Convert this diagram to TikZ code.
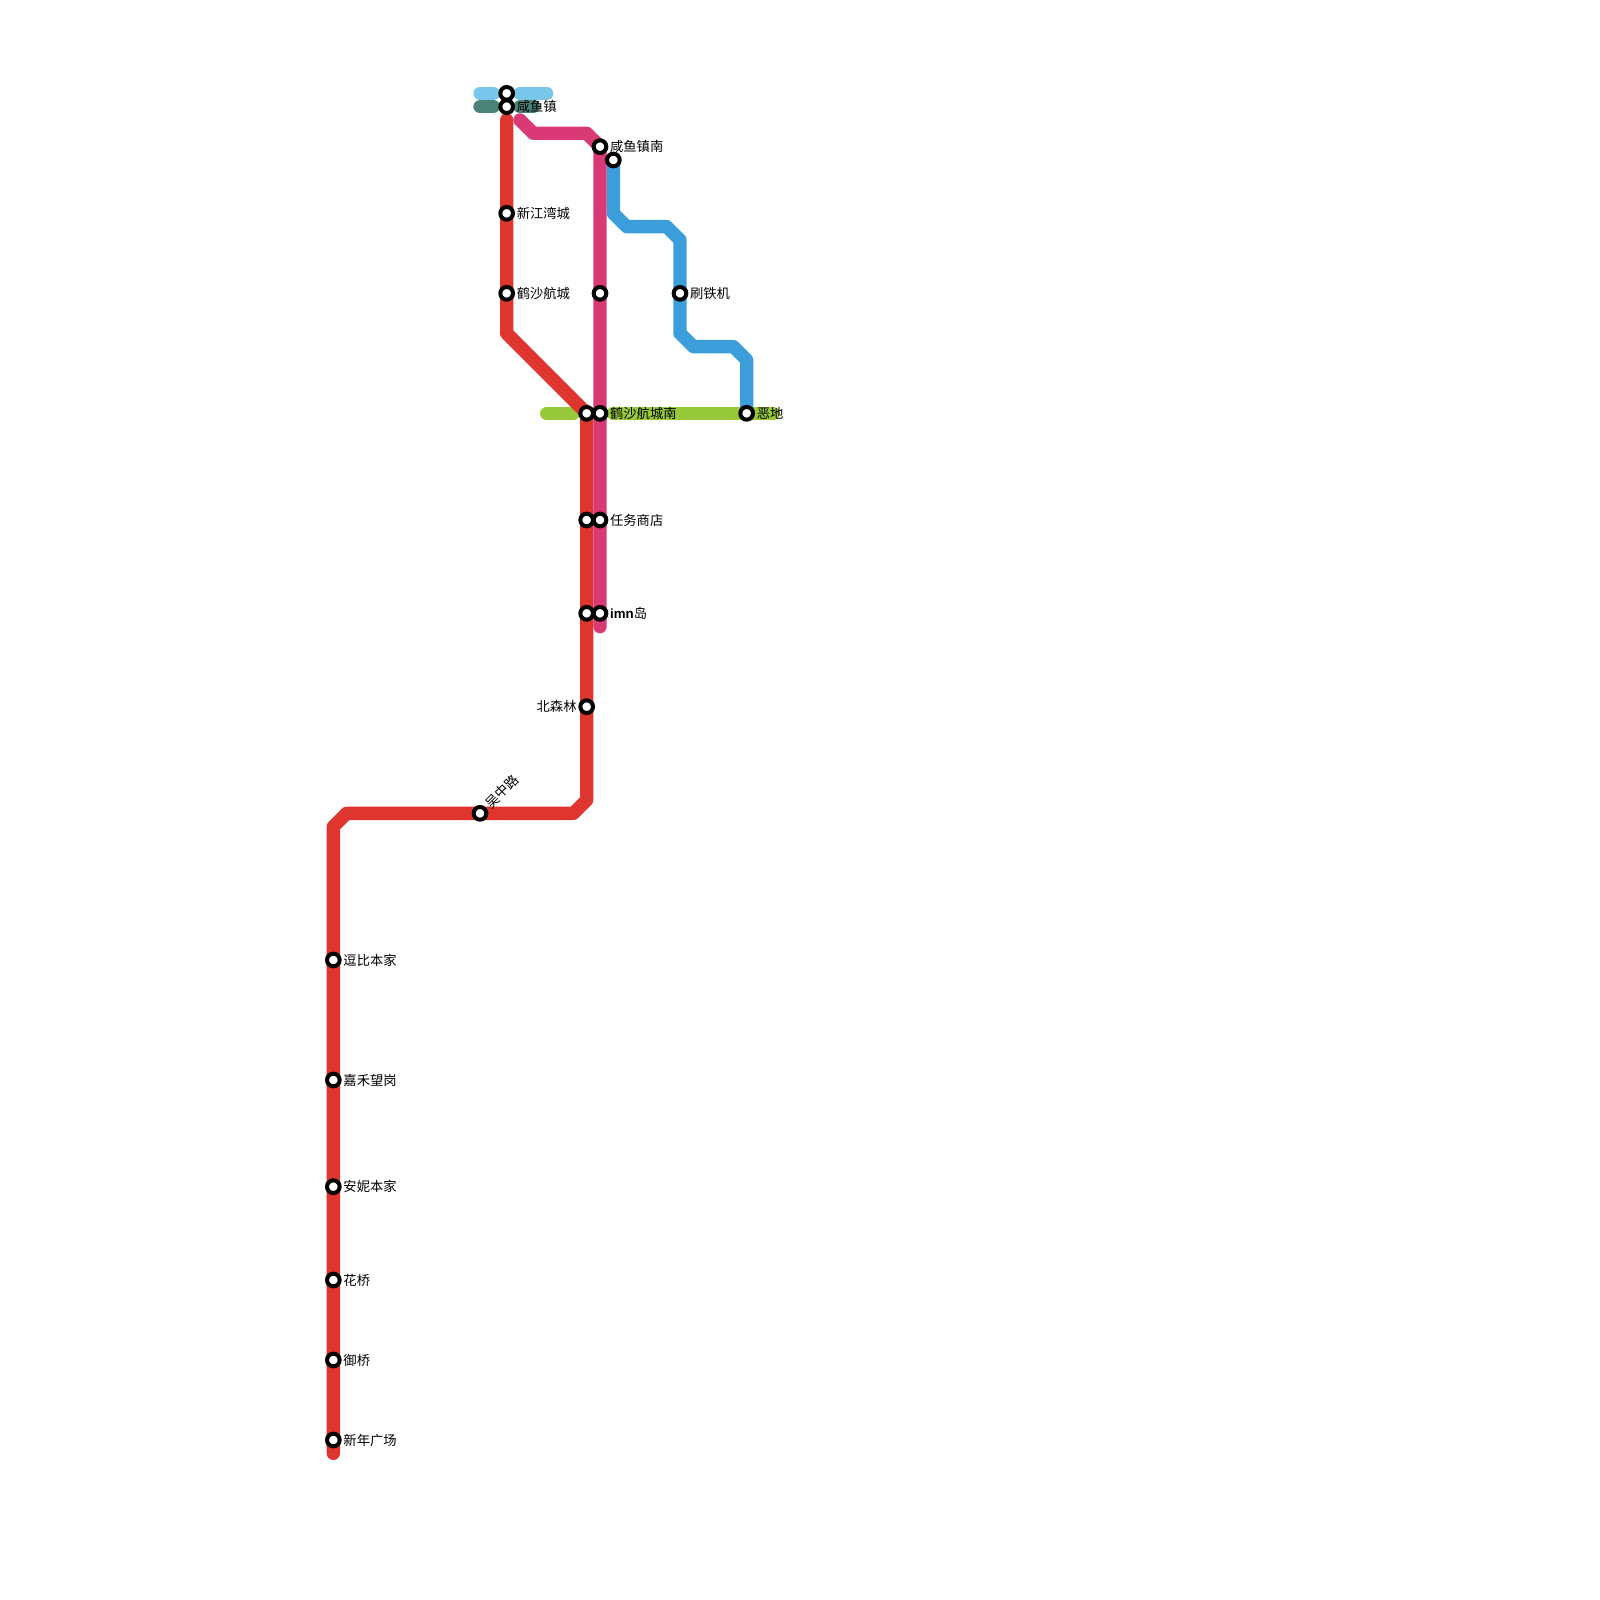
\documentclass[tikz,border=0pt]{standalone}
\usepackage{fontspec}
\setmainfont{Noto Sans CJK SC}
\newfontfamily\latinbold{Liberation Sans}
\usepackage{xcolor}
\usetikzlibrary{backgrounds, positioning}
\definecolor{redline}{HTML}{DE352F}
\definecolor{pinkline}{HTML}{D93A76}
\definecolor{blueline}{HTML}{3B9EDB}
\definecolor{skyline}{HTML}{78C6EA}
\definecolor{tealline}{HTML}{4A8478}
\definecolor{greenline}{HTML}{98C93A}

\begin{document}
\begin{tikzpicture}[
    x=0.2cm, y=-0.2cm,
    node distance=0.02cm,
    station/.style={circle, draw=black, fill=white, line width=0.06cm, minimum size=0.19cm, inner sep=0pt},
    lbl/.style={inner sep=0pt, font=\fontsize{5.67}{6}\selectfont},
    metro/.style={line width=0.2cm, line cap=round, line join=round}
]
\useasboundingbox (0,0) rectangle (120,120);
\node[station] (xianyu1) at (38,7) {};
\node[station] (xianyu2) at (38,8) {};
\node[station] (xinjiang) at (38,16) {};
\node[station] (heshaw) at (38,22) {};
\node[station] (red31) at (44,31) {};
\node[station] (red39) at (44,39) {};
\node[station] (red46) at (44,46) {};
\node[station] (beisenlin) at (44,53) {};
\node[station] (wuzhong) at (36,61) {};
\node[station] (doubi) at (25,72) {};
\node[station] (jiahe) at (25,81) {};
\node[station] (anni) at (25,89) {};
\node[station] (huaqiao) at (25,96) {};
\node[station] (yuqiao) at (25,102) {};
\node[station] (xinnian) at (25,108) {};
\node[station] (xianyunan) at (45,11) {};
\node[station] (pink22) at (45,22) {};
\node[station] (heshanan) at (45,31) {};
\node[station] (renwu) at (45,39) {};
\node[station] (imn) at (45,46) {};
\node[station] (blue12) at (46,12) {};
\node[station] (shuatie) at (51,22) {};
\node[station] (edi) at (56,31) {};

\node[lbl, right=of xianyu2] (xianyu2text) {咸鱼镇};
\node[lbl, right=of xinjiang] (xinjiangtext) {新江湾城};
\node[lbl, right=of heshaw] (heshawtext) {鹤沙航城};
\node[lbl, left=of beisenlin] (beisenlintext) {北森林};
\node[lbl, rotate=45, anchor=west] (wuzhongtext) at (36.55,60.45) {吴中路};
\node[lbl, right=of doubi] (doubitext) {逗比本家};
\node[lbl, right=of jiahe] (jiahetext) {嘉禾望岗};
\node[lbl, right=of anni] (annitext) {安妮本家};
\node[lbl, right=of huaqiao] (huaqiaotext) {花桥};
\node[lbl, right=of yuqiao] (yuqiaotext) {御桥};
\node[lbl, right=of xinnian] (xinniantext) {新年广场};
\node[lbl, right=of xianyunan] (xianyunantext) {咸鱼镇南};
\node[lbl, right=of heshanan] (heshanantext) {鹤沙航城南};
\node[lbl, right=of renwu] (renwutext) {任务商店};
\node[lbl, right=of imn] (imntext) {{\latinbold\bfseries imn}岛};
\node[lbl, right=of shuatie] (shuatietext) {刷铁机};
\node[lbl, right=of edi] (editext) {恶地};

\coordinate (skya) at (36,7);
\coordinate (skyb) at (37,7);
\coordinate (skyc) at (39,7);
\coordinate (skyd) at (41,7);
\coordinate (teala) at (36,8);
\coordinate (tealb) at (37,8);
\coordinate (tealc) at (39,8);
\coordinate (teald) at (40,8);
\coordinate (greena) at (41,31);
\coordinate (greenb) at (43,31);
\coordinate (greenc) at (46,31);
\coordinate (greend) at (58,31);
\coordinate (redtop) at (38,9);
\coordinate (redc1) at (38,25);
\coordinate (redc2) at (44,60);
\coordinate (redc3) at (43,61);
\coordinate (redc4) at (26,61);
\coordinate (redc5) at (25,62);
\coordinate (redend) at (25,109);
\coordinate (pinktop) at (39,9);
\coordinate (pinkc1) at (40,10);
\coordinate (pinkc2) at (44,10);
\coordinate (pinkend) at (45,47);
\coordinate (bluec1) at (46,16);
\coordinate (bluec2) at (47,17);
\coordinate (bluec3) at (50,17);
\coordinate (bluec4) at (51,18);
\coordinate (bluec5) at (51,25);
\coordinate (bluec6) at (52,26);
\coordinate (bluec7) at (55,26);
\coordinate (bluec8) at (56,27);

\begin{scope}[on background layer]
\draw[metro, greenline] (greena) -- (greenb);
\draw[metro, greenline] (greenc) -- (greend);
\draw[metro, skyline] (skya) -- (skyb);
\draw[metro, skyline] (skyc) -- (skyd);
\draw[metro, tealline] (teala) -- (tealb);
\draw[metro, tealline] (tealc) -- (teald);
\draw[metro, redline] (redtop) -- (xinjiang.center) -- (heshaw.center) -- (redc1) -- (red31.center) -- (red39.center) -- (red46.center) -- (beisenlin.center) -- (redc2) -- (redc3) -- (wuzhong.center) -- (redc4) -- (redc5) -- (doubi.center) -- (jiahe.center) -- (anni.center) -- (huaqiao.center) -- (yuqiao.center) -- (xinnian.center) -- (redend);
\draw[metro, blueline] (blue12.center) -- (bluec1) -- (bluec2) -- (bluec3) -- (bluec4) -- (shuatie.center) -- (bluec5) -- (bluec6) -- (bluec7) -- (bluec8) -- (edi.center);
\draw[metro, pinkline] (pinktop) -- (pinkc1) -- (pinkc2) -- (xianyunan.center) -- (pink22.center) -- (heshanan.center) -- (renwu.center) -- (imn.center) -- (pinkend);
\end{scope}
\end{tikzpicture}
\end{document}
